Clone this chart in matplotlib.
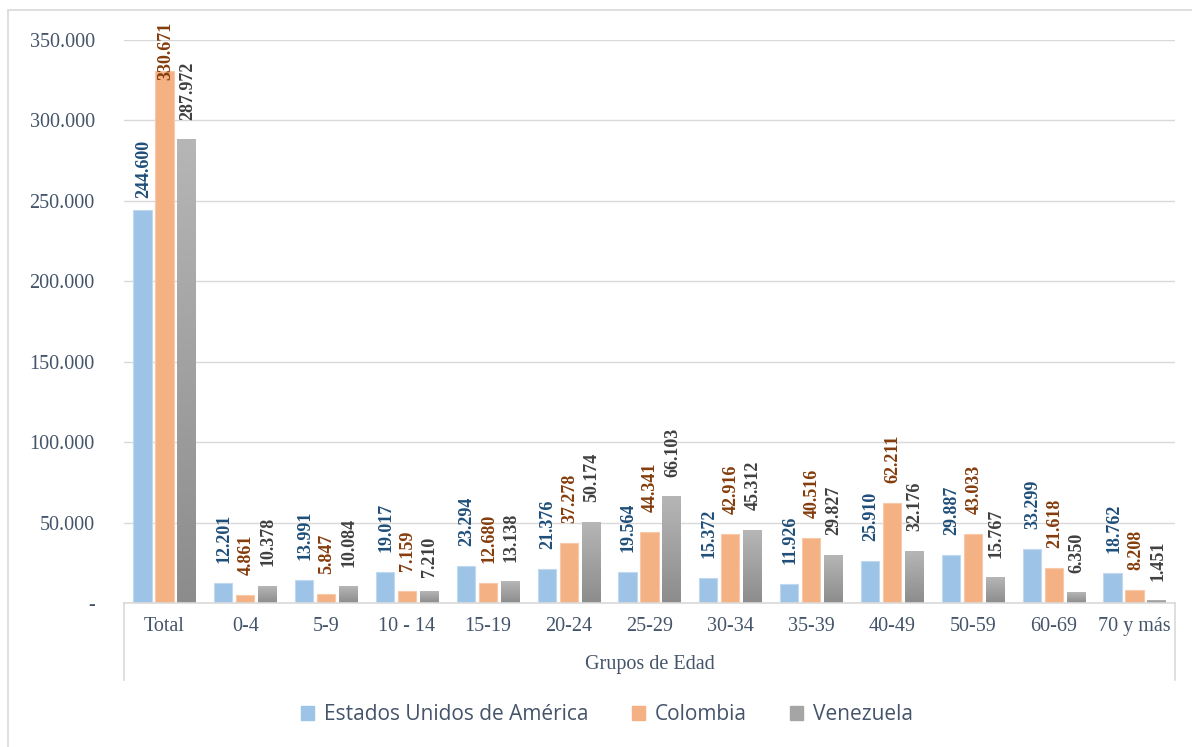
import matplotlib
matplotlib.use("Agg")
import matplotlib.pyplot as plt
import numpy as np
from matplotlib.patches import Rectangle
from matplotlib.lines import Line2D
from matplotlib.colors import LinearSegmentedColormap

categories = ["Total", "0-4", "5-9", "10 - 14", "15-19", "20-24", "25-29",
              "30-34", "35-39", "40-49", "50-59", "60-69", "70 y más"]
usa = [244600, 12201, 13991, 19017, 23294, 21376, 19564, 15372, 11926, 25910, 29887, 33299, 18762]
colombia = [330671, 4861, 5847, 7159, 12680, 37278, 44341, 42916, 40516, 62211, 43033, 21618, 8208]
venezuela = [287972, 10378, 10084, 7210, 13138, 50174, 66103, 45312, 29827, 32176, 15767, 6350, 1451]
series_names = ["Estados Unidos de América", "Colombia", "Venezuela"]
y_ticks = [0, 50000, 100000, 150000, 200000, 250000, 300000, 350000]
x_title = "Grupos de Edad"

# styling
bar_colors = ["#9dc3e6", "#f4b183", "#a5a5a5"]
edge_colors = ["#c0d9ef", "#f8c9a8", "none"]
label_colors = ["#1f4e79", "#843c0c", "#404040"]
text_color = "#44546a"
grid_color = "#d9d9d9"
label_gap_px = 20
# manual nudges of some data labels (series index, category index) -> pixel gap
label_gap_override = {(0, 0): 12, (1, 0): -9, (2, 3): 14}

W, H = 1192, 747
fig = plt.figure(figsize=(W / 100, H / 100), dpi=100)
fig.patch.set_facecolor("white")
ax = fig.add_axes([124 / W, 1 - 603 / H, (1175 - 124) / W, (603 - 40) / H])

n = len(categories)
x = np.arange(n)
bw = 0.225
step = 0.272
serif = ["Liberation Serif", "DejaVu Serif"]

all_series = [usa, colombia, venezuela]
bar_groups = []
for i, (vals, col) in enumerate(zip(all_series, bar_colors)):
    bars = ax.bar(x + (i - 1) * step, vals, width=bw, color=col, zorder=2,
                  edgecolor=edge_colors[i], linewidth=0.8, label=series_names[i])
    bar_groups.append(bars)

# gradient on gray bars
grad = np.linspace(0, 1, 256).reshape(-1, 1)
gcmap = LinearSegmentedColormap.from_list("g", ["#8c8c8c", "#b6b6b6"])
for b in bar_groups[2]:
    x0 = b.get_x()
    x1 = x0 + b.get_width()
    h = b.get_height()
    ax.imshow(grad, extent=[x0, x1, 0, h], origin="lower", cmap=gcmap,
              aspect="auto", zorder=2.5, interpolation="bilinear")

# value labels
for i, (vals, bars) in enumerate(zip(all_series, bar_groups)):
    for j, (b, v) in enumerate(zip(bars, vals)):
        lbl = f"{v:,}".replace(",", ".")
        gap = label_gap_override.get((i, j), label_gap_px)
        ax.annotate(lbl, (b.get_x() + b.get_width() / 2, v), xytext=(1, gap),
                    textcoords="offset pixels", rotation=90, ha="center", va="bottom",
                    fontsize=13, fontweight="bold", color=label_colors[i],
                    family=serif, annotation_clip=False, zorder=4)

ax.set_xlim(-0.5, n - 0.5)
ax.set_ylim(0, 350000)
ax.set_yticks(y_ticks)
ax.set_yticklabels(["-" if t == 0 else f"{t:,}".replace(",", ".") for t in y_ticks],
                   family=serif, fontsize=14.5, color=text_color)
ax.set_xticks(x)
ax.set_xticklabels(categories, family=serif, fontsize=14.5, color=text_color)
ax.tick_params(axis="y", length=0, pad=21)
ax.tick_params(axis="x", length=0, pad=10)

ax.grid(axis="y", color=grid_color, linewidth=1, zorder=0)
ax.set_axisbelow(True)
for s in ["top", "right", "left"]:
    ax.spines[s].set_visible(False)
ax.spines["bottom"].set_color(grid_color)
ax.spines["bottom"].set_linewidth(1.2)

# group bracket lines (from axis down to below the group title)
bracket_bottom = -350000 * (680 - 603) / (603 - 40)
for xp in [-0.5, n - 0.5]:
    ax.add_line(Line2D([xp, xp], [0, bracket_bottom],
                       color=grid_color, linewidth=1.2, clip_on=False))

fig.text((124 + 1175) / 2 / W, 1 - 665 / H, x_title, family=serif, fontsize=14.5,
         color=text_color, ha="center", va="center")

# legend
handles = [Rectangle((0, 0), 1, 1, color=c) for c in bar_colors]
leg = fig.legend(handles, series_names, loc="center", bbox_to_anchor=(607 / W, 1 - 715 / H),
                 ncol=3, frameon=False, prop={"family": "Open Sans", "size": 15},
                 handlelength=0.63, handleheight=0.63, handletextpad=0.48,
                 columnspacing=2.07, labelcolor=text_color)

# figure border
fig.add_artist(Rectangle((8 / W, -0.01), 1.02, 1 - 10 / H + 0.01, transform=fig.transFigure,
                         fill=False, edgecolor=grid_color, linewidth=1.2))

fig.savefig("out.png", dpi=100)
